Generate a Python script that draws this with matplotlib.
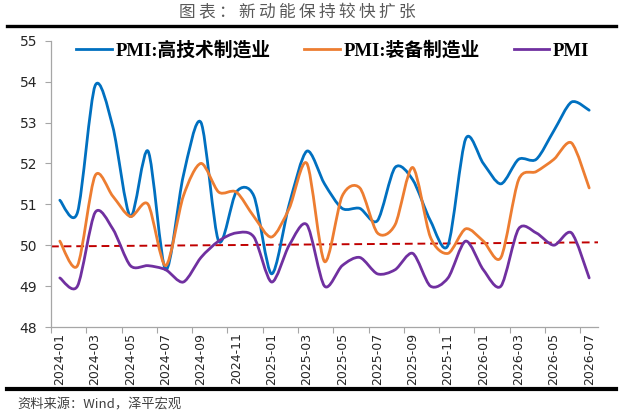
import numpy as np
import matplotlib
matplotlib.use("Agg")
import matplotlib.pyplot as plt
from matplotlib.path import Path
from matplotlib.patches import PathPatch
from matplotlib.lines import Line2D

plt.rcParams['font.family'] = ['DejaVu Sans', 'Noto Sans CJK SC']

months = ["2024-01", "2024-02", "2024-03", "2024-04", "2024-05", "2024-06", "2024-07", "2024-08",
          "2024-09", "2024-10", "2024-11", "2024-12", "2025-01", "2025-02", "2025-03", "2025-04",
          "2025-05", "2025-06", "2025-07", "2025-08", "2025-09", "2025-10", "2025-11", "2025-12",
          "2026-01", "2026-02", "2026-03", "2026-04", "2026-05", "2026-06", "2026-07"]

pmi_hightech = [51.1, 50.8, 53.9, 52.9, 50.7, 52.3, 49.4, 51.7, 53.0, 50.1, 51.3, 51.2, 49.3, 51.0, 52.3, 51.5,
                50.9, 50.9, 50.6, 51.9, 51.6, 50.6, 50.0, 52.6, 52.0, 51.5, 52.1, 52.1, 52.8, 53.5, 53.3]
pmi_equip = [50.1, 49.5, 51.7, 51.2, 50.7, 51.0, 49.5, 51.2, 52.0, 51.3, 51.3, 50.7, 50.2, 50.9, 52.0, 49.6,
             51.2, 51.4, 50.3, 50.5, 51.9, 50.2, 49.8, 50.4, 50.1, 49.7, 51.6, 51.8, 52.1, 52.5, 51.4]
pmi = [49.2, 49.0, 50.8, 50.4, 49.5, 49.5, 49.4, 49.1, 49.7, 50.1, 50.3, 50.2, 49.1, 50.0, 50.5, 49.0,
       49.5, 49.7, 49.3, 49.4, 49.8, 49.0, 49.2, 50.1, 49.4, 49.0, 50.4, 50.3, 50.0, 50.3, 49.2]
trend_ends = [49.97, 50.07]

series = [(pmi_hightech, "#0070C0", "PMI:高技术制造业"),
          (pmi_equip, "#ED7D31", "PMI:装备制造业"),
          (pmi, "#7030A0", "PMI")]


def smooth_path(y, k=7.0):
    # smoothed line like excel: cardinal spline segments as cubic beziers
    p = np.column_stack([np.arange(len(y)), y]).astype(float)
    pp = np.vstack([p[0], p, p[-1]])
    verts = [p[0]]
    codes = [Path.MOVETO]
    for i in range(len(p) - 1):
        p0, p1, p2, p3 = pp[i], pp[i + 1], pp[i + 2], pp[i + 3]
        verts += [p1 + (p2 - p0) / k, p2 - (p3 - p1) / k, p2]
        codes += [Path.CURVE4] * 3
    return Path(verts, codes)


fig = plt.figure(figsize=(6.23, 4.18), dpi=100)
ax = fig.add_axes([51 / 623, 1 - 327 / 418, 547 / 623, 286.3 / 418])

handles = []
for vals, col, lab in series:
    ax.add_patch(PathPatch(smooth_path(vals), facecolor='none', edgecolor=col, lw=2.0,
                           capstyle='round', joinstyle='round', zorder=3))
    handles.append(Line2D([], [], color=col, lw=2.0, label=lab))

ax.plot([-0.5, len(months) - 0.5], trend_ends, color="#C00000", lw=1.4,
        linestyle=(0, (4, 2.5)), zorder=2)

ax.set_xlim(-0.5, len(months) - 0.5)
ax.set_ylim(48, 55)
ax.set_yticks(range(48, 56))
ax.set_xticks(range(0, len(months), 2))
ax.set_xticklabels(months[::2], rotation=90, fontsize=9, color="#262626")
ax.set_xticks(np.arange(-0.5, len(months) - 0.5, 2), minor=True)
ax.tick_params(axis='x', which='major', length=0, pad=4)
ax.tick_params(axis='x', which='minor', length=4, color="#A6A6A6", width=0.8)
ax.tick_params(axis='y', length=4, color="#A6A6A6", width=0.8, labelsize=10, labelcolor="#262626", pad=6)
for s in ['top', 'right']:
    ax.spines[s].set_visible(False)
for s in ['left', 'bottom']:
    ax.spines[s].set_color("#A6A6A6")
    ax.spines[s].set_linewidth(0.9)

leg = ax.legend(handles=handles, loc='center left', bbox_to_anchor=(0.046, 1 - 10 / 286.3),
                ncol=3, frameon=False, borderpad=0, borderaxespad=0, handlelength=1.9,
                handletextpad=0.2, columnspacing=1.8,
                prop={'family': ['Liberation Serif', 'Noto Sans CJK SC'], 'weight': 'bold', 'size': 13.5})

fig.text(297 / 623, 1 - 12.5 / 418, "图 表 ： 新 动 能 保 持 较 快 扩 张".replace(" ", "\u2009"),
         ha='center', va='center', fontsize=12, color="#595959",
         family=['Noto Sans CJK SC', 'DejaVu Sans'])
fig.add_artist(Line2D([7 / 623, 616 / 623], [1 - 26 / 418] * 2, color='black', lw=2.4))
fig.add_artist(Line2D([7 / 623, 616 / 623], [1 - 389 / 418] * 2, color='black', lw=3.0))
fig.text(17 / 623, 1 - 405 / 418, "资料来源：Wind，泽平宏观", ha='left', va='center',
         fontsize=9.5, color="#404040", family=['Noto Sans CJK SC', 'DejaVu Sans'])

fig.savefig("out.png", dpi=100)
